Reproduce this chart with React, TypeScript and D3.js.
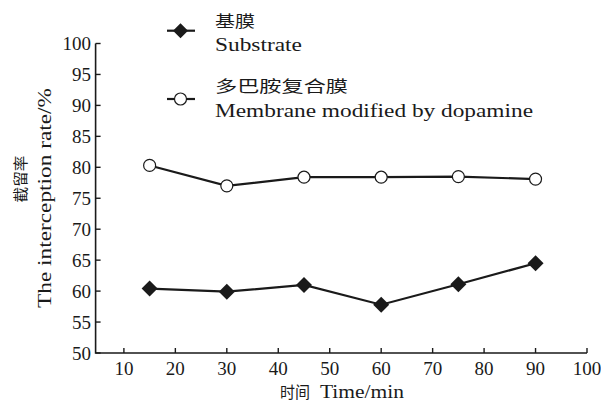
import React from 'react'
import * as d3 from 'd3'

const times = [15, 30, 45, 60, 75, 90]
const substrate = [60.4, 59.9, 61.0, 57.8, 61.1, 64.5]
const modified = [80.3, 77.0, 78.4, 78.4, 78.5, 78.1]
const xTicks = [10, 20, 30, 40, 50, 60, 70, 80, 90, 100]
const yTicks = [50, 55, 60, 65, 70, 75, 80, 85, 90, 95, 100]

const W = 601
const H = 410
const serif = '"Liberation Serif", "Times New Roman", serif'
const cjk = '"Noto Sans CJK SC", sans-serif'
const ink = '#1a1a1a'

export default function App() {
  const x = d3.scaleLinear().domain([4.5, 100]).range([95.6, 587])
  const y = d3.scaleLinear().domain([50, 100]).range([353, 43.5])

  const line = d3.line<number>()
    .x((d, i) => x(times[i]))
    .y(d => y(d))

  const diamond = (cx: number, cy: number, r = 8) =>
    `M${cx},${cy - r}L${cx + r},${cy}L${cx},${cy + r}L${cx - r},${cy}Z`

  const sq = 'spacingAndGlyphs'

  return (
    <svg width={W} height={H} style={{ position: 'absolute', left: 0, top: 0, background: '#fff' }}>
      {/* axes */}
      <path d={`M${x(4.5)},${y(100)}V${y(50)}H${x(100)}`} fill="none" stroke={ink} strokeWidth={1.6} />
      {yTicks.map(t => (
        <g key={'y' + t}>
          <line x1={x(4.5)} x2={x(4.5) + 5} y1={y(t)} y2={y(t)} stroke={ink} strokeWidth={1.4} />
          <text x={91} y={y(t)} dy="0.35em" textAnchor="end" fontFamily={serif} fontSize={19} fill={ink}>{t}</text>
        </g>
      ))}
      {xTicks.map(t => (
        <g key={'x' + t}>
          <line x1={x(t)} x2={x(t)} y1={y(50)} y2={y(50) - 5} stroke={ink} strokeWidth={1.4} />
          <text x={x(t)} y={375} textAnchor="middle" fontFamily={serif} fontSize={19} fill={ink}>{t}</text>
        </g>
      ))}

      {/* axis titles */}
      <text x={280} y={398} fontFamily={cjk} fontSize={16} fill={ink} textLength={30} lengthAdjust={sq}>时间</text>
      <text x={320} y={398} fontFamily={serif} fontSize={19} fill={ink} textLength={84} lengthAdjust={sq}>Time/min</text>
      <text transform="translate(26,179) rotate(-90)" textAnchor="middle" fontFamily={cjk} fontSize={15} fill={ink} textLength={47} lengthAdjust={sq}>截留率</text>
      <text transform="translate(51,308) rotate(-90)" fontFamily={serif} fontSize={19} fill={ink} textLength={220} lengthAdjust={sq}>The interception rate/%</text>

      {/* series */}
      <path d={line(modified) || ''} fill="none" stroke={ink} strokeWidth={2.2} />
      {modified.map((v, i) => (
        <circle key={'m' + i} cx={x(times[i])} cy={y(v)} r={6} fill="#fff" stroke={ink} strokeWidth={1.2} />
      ))}
      <path d={line(substrate) || ''} fill="none" stroke={ink} strokeWidth={2.2} />
      {substrate.map((v, i) => (
        <path key={'s' + i} d={diamond(x(times[i]), y(v))} fill={ink} />
      ))}

      {/* legend */}
      <line x1={167} x2={195} y1={30.7} y2={30.7} stroke={ink} strokeWidth={2.2} />
      <path d={diamond(180.5, 30.7, 7.5)} fill={ink} />
      <text x={215} y={27} fontFamily={cjk} fontSize={16} fill={ink} textLength={40} lengthAdjust={sq}>基膜</text>
      <text x={215} y={50.5} fontFamily={serif} fontSize={18} fill={ink} textLength={87} lengthAdjust={sq}>Substrate</text>

      <line x1={167} x2={195} y1={99} y2={99} stroke={ink} strokeWidth={2.2} />
      <circle cx={180.5} cy={99} r={6} fill="#fff" stroke={ink} strokeWidth={1.2} />
      <text x={215} y={92} fontFamily={cjk} fontSize={16} fill={ink} textLength={133} lengthAdjust={sq}>多巴胺复合膜</text>
      <text x={215} y={117} fontFamily={serif} fontSize={18} fill={ink} textLength={318} lengthAdjust={sq}>Membrane modified by dopamine</text>
    </svg>
  )
}
